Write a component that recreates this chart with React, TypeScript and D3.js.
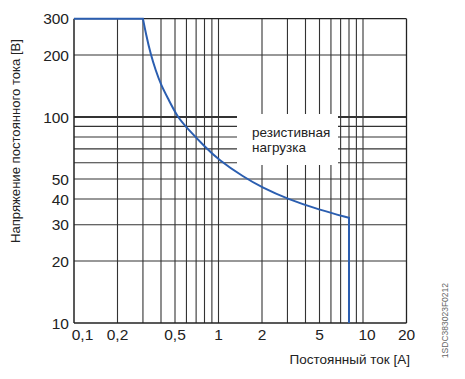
import React from "react";
import * as d3 from "d3";

const xGridValues = [0.2, 0.3, 0.4, 0.5, 0.6, 0.7, 0.8, 0.9, 1, 2, 3, 4, 5, 6, 7, 8, 9, 10];
const yGridValues = [20, 30, 40, 50, 60, 70, 80, 90, 100, 200];
const xTickLabels = [0.1, 0.2, 0.5, 1, 2, 5, 10, 20];
const yTickLabels = [10, 20, 30, 40, 50, 100, 200, 300];

// flat part
const flatCurrent = [0.1, 0.3];
const flatVoltage = [300, 300];
// decreasing part
const curveCurrent = [0.3, 0.314, 0.34, 0.367, 0.4, 0.45, 0.52, 0.6, 0.8, 1, 1.5, 2, 3, 5, 8];
const curveVoltage = [300, 255, 200, 169, 143, 122, 100, 89, 72, 62, 51, 45.5, 40, 35.4, 32.4];
// vertical drop
const dropCurrent = [8, 8];
const dropVoltage = [32.4, 10];

const xTitle = "Постоянный ток [A]";
const yTitle = "Напряжение постоянного тока [В]";
const boxLines = ["резистивная", "нагрузка"];
const docCode = "1SDC383023F0212";

export default function App() {
  const W = 465, H = 379;
  const x = d3.scaleLog().domain([0.1, 20]).range([74, 406.5]);
  const y = d3.scaleLog().domain([10, 300]).range([323, 18.7]);
  const fmt = (v: number) => String(v).replace(".", ",");

  const lin = d3.line<[number, number]>().x(d => x(d[0])).y(d => y(d[1]));
  const smooth = d3.line<[number, number]>().x(d => x(d[0])).y(d => y(d[1])).curve(d3.curveBasis);
  const flatPath = lin(flatCurrent.map((c, i) => [c, flatVoltage[i]] as [number, number]))!;
  const curvePath = smooth(curveCurrent.map((c, i) => [c, curveVoltage[i]] as [number, number]))!;
  const dropPath = lin(dropCurrent.map((c, i) => [c, dropVoltage[i]] as [number, number]))!;
  const fullPath = flatPath + "L" + curvePath.slice(1) + "L" + dropPath.slice(1).split("L")[1];

  const font = "'Liberation Sans', Arial, Helvetica, sans-serif";
  const [x0, x1] = x.range();
  const [y0, y1] = y.range();

  return (
    <svg width={W} height={H} style={{ position: "absolute", left: 0, top: 0, background: "#fff" }} fontFamily={font}>
      {/* vertical grid */}
      {xGridValues.map(v => (
        <line key={"vx" + v} x1={x(v)} x2={x(v)} y1={y1} y2={y0} stroke="#333" strokeWidth={1.1} />
      ))}
      {/* horizontal grid */}
      {yGridValues.map(v => (
        <line key={"hy" + v} x1={x0} x2={x1} y1={y(v)} y2={y(v)} stroke="#333" strokeWidth={v === 100 ? 2 : 1.1} />
      ))}
      {/* borders */}
      <line x1={x0} x2={x1} y1={y1} y2={y1} stroke="#222" strokeWidth={1.3} />
      <line x1={x1} x2={x1} y1={y1} y2={y0} stroke="#222" strokeWidth={1.3} />
      <line x1={x0} x2={x0} y1={y1} y2={y0} stroke="#222" strokeWidth={1.5} />
      <line x1={x0} x2={x1} y1={y0} y2={y0} stroke="#222" strokeWidth={1.5} />

      {/* label box */}
      <rect x={237} y={114} width={101} height={51} fill="#fff" />
      <text x={252} y={137} fontSize={13.5} fill="#222">{boxLines[0]}</text>
      <text x={252} y={152} fontSize={13.5} fill="#222">{boxLines[1]}</text>

      {/* curve */}
      <path d={fullPath} fill="none" stroke="#2b5eb0" strokeWidth={2} strokeLinejoin="miter" />

      {/* y tick labels */}
      {yTickLabels.map(v => (
        <text key={"yl" + v} x={69} y={y(v)} dy="0.36em" textAnchor="end" fontSize={15.5} fill="#222">{fmt(v)}</text>
      ))}
      {/* x tick labels */}
      {xTickLabels.map(v => (
        <text key={"xl" + v} x={x(v) + (v === 0.1 ? 8.5 : v === 10 ? 4 : 0)} y={340} textAnchor="middle" fontSize={15.5} fill="#222">{fmt(v)}</text>
      ))}

      {/* axis titles */}
      <text x={410} y={364} textAnchor="end" fontSize={13.5} fill="#222">{xTitle}</text>
      <text transform={`translate(20,141) rotate(-90)`} textAnchor="middle" fontSize={13.1} fill="#222">{yTitle}</text>

      {/* doc code */}
      <text transform={`translate(448,283) rotate(-90)`} textAnchor="end" fontSize={8.5} fill="#666">{docCode}</text>
    </svg>
  );
}
